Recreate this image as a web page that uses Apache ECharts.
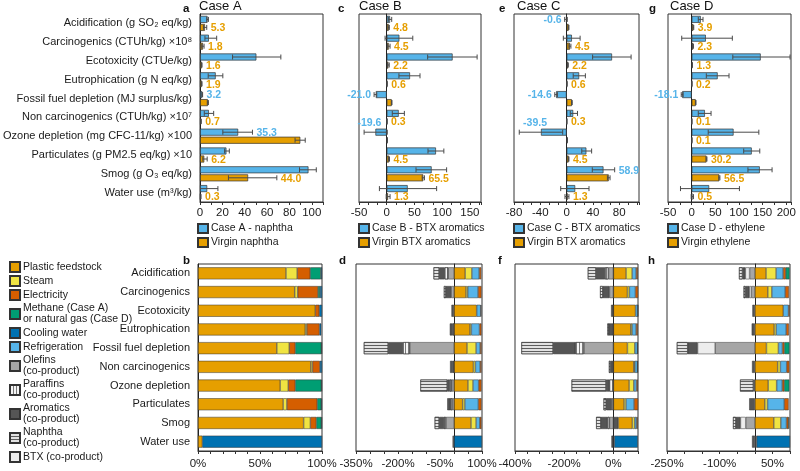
<!DOCTYPE html>
<html><head><meta charset="utf-8">
<script src="https://cdn.jsdelivr.net/npm/echarts@6/dist/echarts.min.js"></script>
<style>html,body{margin:0;padding:0;background:#fff}#main{width:800px;height:471px}</style>
</head><body><div id="main"></div>
<script>
// ---------- categories ----------
const topCategories = ['Acidification (g SO\u2082 eq/kg)', 'Carcinogenics (CTUh/kg) \u00d710\u2078', 'Ecotoxicity (CTUe/kg)', 'Eutrophication (g N eq/kg)', 'Fossil fuel depletion (MJ surplus/kg)', 'Non carcinogenics (CTUh/kg) \u00d710\u2077', 'Ozone depletion (mg CFC-11/kg) \u00d7100', 'Particulates (g PM2.5 eq/kg) \u00d710', 'Smog (g O\u2083 eq/kg)', 'Water use (m\u00b3/kg)'];
const bottomCategories = ['Acidification', 'Carcinogenics', 'Ecotoxicity', 'Eutrophication', 'Fossil fuel depletion', 'Non carcinogenics', 'Ozone depletion', 'Particulates', 'Smog', 'Water use'];

// ---------- panel a (Case A) ----------
const a_blue     = [6.7, 7.9, 50.4, 14, 2, 7.9, 34.1, 23.6, 97, 6.4];
const a_blueLo   = [6, 4.4, 29.1, 7.3, 1.7, 3.8, 20.4, 22, 89, -3];
const a_blueHi   = [7.5, 14.9, 72.3, 20.4, 2.3, 12.2, 46.9, 26.2, 104, 16];
const a_orange   = [4.4, 2.6, 1.5, 1.5, 7, 0.9, 89.7, 3.8, 43, 0.6];
const a_orangeLo = [3, 1.5, 1.2, 1.2, 6.5, 0.7, 85, 2.5, 25.4, 0.3];
const a_orangeHi = [6, 3.6, 1.8, 1.8, 7.5, 1.1, 94.1, 6.4, 68.7, 0.9];
const a_lblBlue   = ['', '', '', '', '3.2', '', '35.3', '', '', ''];
const a_lblOrange = ['5.3', '1.8', '1.6', '1.9', '', '0.7', '', '6.2', '44.0', '0.3'];

// ---------- panel c (Case B) ----------
const c_blue     = [6, 22.8, 118.8, 42, -19.8, 21.6, -20.4, 88.8, 81, 37.8];
const c_blueLo   = [3, -3, 73.8, 22, -22.8, 10, -40.8, 74.4, 52.8, -13.2];
const c_blueHi   = [9, 47, 163, 60, -18, 31.8, 1, 103, 108, 90];
const c_orange   = [3.6, 3.6, 3, 0.6, 9, 0.5, 1, 4.2, 66, 2.4];
const c_orangeLo = [2.5, 1.2, 1.5, 0.4, 8.5, 0.3, 0.7, 3.5, 64, -1];
const c_orangeHi = [4.7, 6, 4.5, 0.8, 9.5, 0.7, 1.3, 5, 68, 6];
const c_lblBlue   = ['', '', '', '', '-21.0', '', '-19.6', '', '', ''];
const c_lblOrange = ['4.8', '4.5', '2.2', '0.6', '', '0.3', '', '4.5', '65.5', '1.3'];

// ---------- panel e (Case C) ----------
const e_blue     = [-0.6, 8, 69, 19, -16, 10, -39, 30, 56, 13];
const e_blueLo   = [-3, -5, 39.5, 10, -18, 5.5, -72, 23, 39, -9];
const e_blueHi   = [1, 20.5, 98, 28.5, -14, 16.5, -6, 38, 73, 34];
const e_orange   = [3, 5, 2, 0.5, 8, 0.3, 1, 3, 64, 1.5];
const e_orangeLo = [2.5, 3.5, 1.5, 0.3, 7.5, 0.2, 0.7, 2.5, 62, -2.5];
const e_orangeHi = [3.5, 6.5, 2.5, 0.7, 8.5, 0.4, 1.3, 3.5, 66, 3.5];
const e_lblBlue   = ['-0.6', '', '', '', '-14.6', '', '-39.5', '', '58.9', ''];
const e_lblOrange = ['', '4.5', '2.2', '0.6', '', '0.3', '', '4.5', '', '1.3'];

// ---------- panel g (Case D) ----------
const g_blue     = [19.3, 30, 146, 55, -20, 28, 88.6, 127, 144, 37];
const g_blueLo   = [14, -21, 87, 31, -22, 14, 35, 110, 119, -23.6];
const g_blueHi   = [24, 86, 208, 79, -18, 41, 142, 144, 170, 101];
const g_orange   = [3.6, 2.9, 1.4, 0.5, 8.6, 0.4, 0.5, 31.4, 58.6, 1.4];
const g_orangeLo = [2.8, 2, 1, 0.3, 8, 0.3, 0.3, 30.5, 57.5, -1];
const g_orangeHi = [4.4, 3.8, 1.8, 0.7, 9.2, 0.5, 0.7, 32.3, 59.7, 3.8];
const g_lblBlue   = ['', '', '', '', '-18.1', '', '', '', '', ''];
const g_lblOrange = ['3.9', '2.3', '1.3', '0.2', '', '0.1', '0.1', '30.2', '56.5', '0.5'];

// ---------- panel b (Case A contributions, %) ----------
const b_feed     = [71, 78, 94.6, 86.5, 63.6, 91, 66.3, 68.7, 85.2, 3.5];
const b_steam    = [9, 2.4, 0, 1.3, 10, 1.3, 6.5, 3, 5.4, 0];
const b_elec     = [10.5, 16.4, 3.2, 10.2, 4.9, 6, 5.7, 24.5, 4.9, 0];
const b_methane  = [8.6, 1.6, 0, 0, 21, 0, 21, 3.2, 4, 0];
const b_cooling  = [0.9, 1.6, 2.2, 1.4, 0.5, 1.7, 0.5, 0.6, 0.5, 96.5];

// ---------- panel d (Case B contributions, %) ----------
const d_feed      = [40, 43, 81, 57, 46.7, 69.4, 50, 31, 61, 0];
const d_steam     = [24, 6, 0, 5, 32.3, 7, 18, 8, 18, 0];
const d_refrig    = [26, 37, 14.4, 29, 14.4, 16.8, 20, 48, 13, 0];
const d_elec      = [7, 12, 2, 7, 5, 5, 10, 11, 6, 0];
const d_cooling   = [0, 0, 0, 0, 0, 0, 0, 0, 0, 100];
const d_olefins   = [-21, -10, 0, 0, -158, 0, -8, -7, -29, 0];
const d_paraffins = [-12, 0, 0, -5, -24, -4, -8, -6, -7, 0];
const d_aromatics = [-20, -19, -9, -10, -53, -10, -8, -11, -17, -5];
const d_naphtha   = [-20, -7, 0, 0, -87, 0, -96, 0, -16, 0];

// ---------- panel f (Case C contributions, %) ----------
const f_aroPos    = [0, 0, 0, 0, 0, 0, 0, 0, 20, 4];
const f_feed      = [51.7, 57, 90, 70.7, 57, 83, 64, 43.5, 57, 0];
const f_steam     = [24.5, 8, 0, 5.4, 30, 4, 19, 8, 9.5, 0];
const f_refrig    = [16.3, 24.5, 9.5, 16.3, 11, 11, 11, 32.7, 8, 0];
const f_elec      = [6.8, 11, 0.5, 6.8, 1, 1, 5, 16, 4, 0];
const f_cooling   = [0, 0, 0, 0, 0, 0, 0, 0, 0, 95];
const f_olefins   = [-20, -16, 0, 0, -120, 0, 0, -6, -16, 0];
const f_paraffins = [-14, 0, 0, 0, -35, 0, -16, 0, -8, 0];
const f_aromatics = [-37, -27, -9.5, -19, -90, -12, -14, -23, -27, -8];
const f_naphtha   = [-33, -11, 0, -5, -129, -6, -140, -11, -19, 0];

// ---------- panel h (Case D contributions, %) ----------
const h_aroPos    = [0, 0, 0, 0, 0, 0, 0, 0, 0, 5];
const h_feed      = [32, 37, 80.8, 55, 33, 65, 38, 28.5, 54, 0];
const h_steam     = [28.5, 11.4, 0, 5.7, 34, 7.6, 24, 7.6, 20, 0];
const h_refrig    = [20, 38, 15, 28.5, 11.4, 18, 16, 47.6, 16, 0];
const h_elec      = [7.6, 10.5, 3, 7.6, 5.7, 7.6, 5.7, 12.4, 5.7, 0];
const h_methane   = [10.5, 0, 0, 0, 14.3, 0, 14.3, 0, 2, 0];
const h_cooling   = [0, 0, 0, 0, 0, 0, 0, 0, 0, 95];
const h_olefins   = [-15, -10, 0, 0, -113, 0, 0, 0, -26, 0];
const h_btx       = [-12, -6, 0, 0, -50, 0, 0, 0, -15, 0];
const h_aromatics = [-8, -11, -7, -9, -28, -8, -4, -16, -13, -8];
const h_naphtha   = [-10, -5, 0, 0, -31, 0, -38, 0, -8, 0];

// ---------- legend names ----------
const N_FEED = 'Plastic feedstock', N_STEAM = 'Steam', N_ELEC = 'Electricity',
      N_METH = 'Methane (Case A)\nor natural gas (Case D)', N_COOL = 'Cooling water',
      N_REF = 'Refrigeration', N_OLE = 'Olefins\n(co-product)', N_PAR = 'Paraffins\n(co-product)',
      N_ARO = 'Aromatics\n(co-product)', N_NAP = 'Naphtha\n(co-product)', N_BTX = 'BTX (co-product)';

// ================= build =================
const FONT = '"Liberation Sans", Arial, sans-serif';
const TXT = '#1a1a1a';
const BLUE = '#56B4E9', ORANGE = '#E69F00';
const chart = echarts.init(document.getElementById('main'));

const topPanels = [
  {letter:'a', title:'Case A', left:198, width:125, min:0, max:110, interval:20, minor:2, letterX:183, titleX:199,
   blueName:'Case A - naphtha', orangeName:'Virgin naphtha',
   blue:a_blue, blueLo:a_blueLo, blueHi:a_blueHi, orange:a_orange, orangeLo:a_orangeLo, orangeHi:a_orangeHi, lblB:a_lblBlue, lblO:a_lblOrange},
  {letter:'c', title:'Case B', left:359, width:122, min:-50, max:170, interval:50, minor:3, letterX:338, titleX:359,
   blueName:'Case B - BTX aromatics', orangeName:'Virgin BTX aromatics',
   blue:c_blue, blueLo:c_blueLo, blueHi:c_blueHi, orange:c_orange, orangeLo:c_orangeLo, orangeHi:c_orangeHi, lblB:c_lblBlue, lblO:c_lblOrange},
  {letter:'e', title:'Case C', left:514, width:125, min:-80, max:110, interval:40, minor:3, letterX:499, titleX:517,
   blueName:'Case C - BTX aromatics', orangeName:'Virgin BTX aromatics',
   blue:e_blue, blueLo:e_blueLo, blueHi:e_blueHi, orange:e_orange, orangeLo:e_orangeLo, orangeHi:e_orangeHi, lblB:e_lblBlue, lblO:e_lblOrange},
  {letter:'g', title:'Case D', left:668, width:123, min:-50, max:210, interval:50, minor:2, letterX:649, titleX:670,
   blueName:'Case D - ethylene', orangeName:'Virgin ethylene',
   blue:g_blue, blueLo:g_blueLo, blueHi:g_blueHi, orange:g_orange, orangeLo:g_orangeLo, orangeHi:g_orangeHi, lblB:g_lblBlue, lblO:g_lblOrange}
];

const stripeH = {symbol:'rect', symbolSize:1, dashArrayX:[1,0], dashArrayY:[1,2], rotation:0, color:'rgba(70,70,70,0.85)'};
const stripeV = {symbol:'rect', symbolSize:1, dashArrayX:[1,2], dashArrayY:[1,0], rotation:0, color:'rgba(90,90,90,0.8)'};
const comp = {
  aroPos:{name:N_ARO, color:'#555555'},
  feed:{name:N_FEED, color:'#E69F00'},
  steam:{name:N_STEAM, color:'#F0E442'},
  refrig:{name:N_REF, color:'#56B4E9'},
  elec:{name:N_ELEC, color:'#D55E00'},
  methane:{name:N_METH, color:'#009E73'},
  cooling:{name:N_COOL, color:'#0072B2'},
  olefins:{name:N_OLE, color:'#A6A6A6'},
  paraffins:{name:N_PAR, color:'#F4F4F4', decal:stripeV},
  btx:{name:N_BTX, color:'#EDEDED'},
  aromatics:{name:N_ARO, color:'#555555'},
  naphtha:{name:N_NAP, color:'#E2E2E2', decal:stripeH}
};

const bottomPanels = [
  {letter:'b', left:198, width:124, min:0, max:100, interval:50, minor:5, letterX:183,
   parts:{feed:b_feed, steam:b_steam, elec:b_elec, methane:b_methane, cooling:b_cooling}},
  {letter:'d', left:356, width:126, min:-350, max:100, interval:150, minor:3, letterX:339,
   parts:{feed:d_feed, steam:d_steam, refrig:d_refrig, elec:d_elec, cooling:d_cooling, olefins:d_olefins, paraffins:d_paraffins, aromatics:d_aromatics, naphtha:d_naphtha}},
  {letter:'f', left:515, width:123, min:-400, max:100, interval:200, minor:4, letterX:498,
   parts:{aroPos:f_aroPos, feed:f_feed, steam:f_steam, refrig:f_refrig, elec:f_elec, cooling:f_cooling, olefins:f_olefins, paraffins:f_paraffins, aromatics:f_aromatics, naphtha:f_naphtha}},
  {letter:'h', left:667, width:123, min:-250, max:100, interval:150, minor:3, letterX:648,
   parts:{aroPos:h_aroPos, feed:h_feed, steam:h_steam, refrig:h_refrig, elec:h_elec, methane:h_methane, cooling:h_cooling, olefins:h_olefins, btx:h_btx, aromatics:h_aromatics, naphtha:h_naphtha}}
];
const partOrder = ['aroPos','feed','steam','refrig','elec','methane','cooling','olefins','paraffins','btx','aromatics','naphtha'];

const grid = [], xAxis = [], yAxis = [], series = [], title = [], legend = [];

function axisX(gi, p, fmt, hideMax) {
  return {gridIndex:gi, type:'value', min:p.min, max:p.max, interval:p.interval,
    axisLine:{show:true, onZero:false, lineStyle:{color:'#333', width:1}},
    axisTick:{show:true, length:3, lineStyle:{color:'#333'}},
    minorTick:{show:true, splitNumber:p.minor, length:3, lineStyle:{color:'#333'}},
    splitLine:{show:false}, minorSplitLine:{show:false},
    axisLabel:{fontSize:11.5, fontFamily:FONT, color:TXT, margin:gi < 4 ? 5 : 7, formatter:fmt, showMaxLabel:!hideMax, hideOverlap:false}};
}
function axisY(gi, cats, showLabels) {
  return {gridIndex:gi, type:'category', data:cats, inverse:true,
    axisLine:{show:true, onZero:true, lineStyle:{color:'#222', width:1}},
    axisTick:{show:false}, splitLine:{show:false},
    axisLabel:{show:showLabels, fontSize:11, fontFamily:FONT, color:TXT, margin:8}};
}

function errRender(vals, lo, hi, labels, color, dy) {
  return function(params, api) {
    const k = params.dataIndex;
    const cs = params.coordSys;
    const yc = api.coord([0, k])[1] + dy;
    const xl = api.coord([lo[k], k])[0], xh = api.coord([hi[k], k])[0], xv = api.coord([vals[k], k])[0];
    const cl = x => Math.max(cs.x, Math.min(cs.x + cs.width, x));
    const st = {stroke:'#4a4a4a', lineWidth:1};
    const ch = [{type:'line', shape:{x1:cl(xl), y1:yc, x2:cl(xh), y2:yc}, style:st}];
    const cap = 2.5;
    if (xl >= cs.x - 0.5) ch.push({type:'line', shape:{x1:xl, y1:yc-cap, x2:xl, y2:yc+cap}, style:st});
    if (xh <= cs.x + cs.width + 0.5) ch.push({type:'line', shape:{x1:xh, y1:yc-cap, x2:xh, y2:yc+cap}, style:st});
    const t = labels[k];
    if (t) {
      let tx, ty = yc + 1, align;
      if (vals[k] >= 0) { tx = Math.max(xh, xv) + 4; align = 'left'; }
      else if (xv - xl > 8) { tx = xv + 6; ty = yc - 9; align = 'right'; }
      else { tx = Math.min(xl, xv) - 3; align = 'right'; }
      ch.push({type:'text', style:{x:tx, y:ty, text:t, fill:color, font:'bold 10.5px ' + FONT, align:align, verticalAlign:'middle'}});
    }
    return {type:'group', children:ch};
  };
}

topPanels.forEach((p, i) => {
  grid.push({left:p.left, top:14, width:p.width, height:188, show:true, borderColor:'#333', borderWidth:1, backgroundColor:'rgba(0,0,0,0)'});
  xAxis.push(axisX(i, p, null, true));
  yAxis.push(axisY(i, topCategories, i === 0));
  title.push({text:p.letter, left:p.letterX, top:3, padding:0, textStyle:{fontSize:11.5, fontWeight:'bold', fontFamily:FONT, color:'#111'}});
  title.push({text:p.title, left:p.titleX, top:0, padding:0, textStyle:{fontSize:13, fontWeight:'normal', fontFamily:FONT, color:'#111'}});
  legend.push({data:[p.blueName, p.orangeName], left:p.left - 1, top:223, orient:'vertical', icon:'rect',
    itemWidth:10, itemHeight:9, itemGap:3, padding:0, selectedMode:false,
    textStyle:{fontSize:10.5, fontFamily:FONT, color:TXT, padding:[0,0,0,-2]}});
  const bs = {borderColor:'#333', borderWidth:0.7};
  series.push({type:'bar', name:p.blueName, xAxisIndex:i, yAxisIndex:i, data:p.blue, barWidth:7, barGap:'15%',
    itemStyle:Object.assign({color:BLUE}, bs)});
  series.push({type:'bar', name:p.orangeName, xAxisIndex:i, yAxisIndex:i, data:p.orange, barWidth:7, barGap:'15%',
    itemStyle:Object.assign({color:ORANGE}, bs)});
  const dB = p.blue.map((v, k) => [v, k, p.blueLo[k], p.blueHi[k]]);
  const dO = p.orange.map((v, k) => [v, k, p.orangeLo[k], p.orangeHi[k]]);
  series.push({type:'custom', name:'errB' + i, xAxisIndex:i, yAxisIndex:i, data:dB, z:5, silent:true,
    encode:{x:[0,2,3], y:1}, renderItem:errRender(p.blue, p.blueLo, p.blueHi, p.lblB, BLUE, -4)});
  series.push({type:'custom', name:'errO' + i, xAxisIndex:i, yAxisIndex:i, data:dO, z:5, silent:true,
    encode:{x:[0,2,3], y:1}, renderItem:errRender(p.orange, p.orangeLo, p.orangeHi, p.lblO, ORANGE, 4)});
});

bottomPanels.forEach((p, j) => {
  const gi = 4 + j;
  grid.push({left:p.left, top:264, width:p.width, height:187, show:true, borderColor:'#333', borderWidth:1, backgroundColor:'rgba(0,0,0,0)'});
  xAxis.push(axisX(gi, p, '{value}%', p.min === -400 || p.min === -250));
  yAxis.push(axisY(gi, bottomCategories, j === 0));
  title.push({text:p.letter, left:p.letterX, top:255, padding:0, textStyle:{fontSize:11.5, fontWeight:'bold', fontFamily:FONT, color:'#111'}});
  partOrder.forEach(key => {
    const arr = p.parts[key];
    if (!arr) return;
    const c = comp[key];
    const it = {color:c.color, borderColor:'#333', borderWidth:0.5};
    if (c.decal) it.decal = c.decal;
    series.push({type:'bar', name:c.name, xAxisIndex:gi, yAxisIndex:gi, stack:'s' + j, barWidth:12,
      data:arr.map(v => v === 0 ? '-' : v), itemStyle:it});
  });
});

legend.push({data:[N_FEED, N_STEAM, N_ELEC, N_METH, N_COOL, N_REF, N_OLE, N_PAR, N_ARO, N_NAP, N_BTX],
  left:9, top:261, height:210, orient:'vertical', icon:'rect', itemWidth:10, itemHeight:10, itemGap:2, padding:0, selectedMode:false,
  textStyle:{fontSize:10.5, lineHeight:11, fontFamily:FONT, color:TXT, padding:[0,0,0,-2]}});

chart.setOption({animation:false, backgroundColor:'#fff', textStyle:{fontFamily:FONT},
  title, legend, grid, xAxis, yAxis, series});
</script></body></html>
